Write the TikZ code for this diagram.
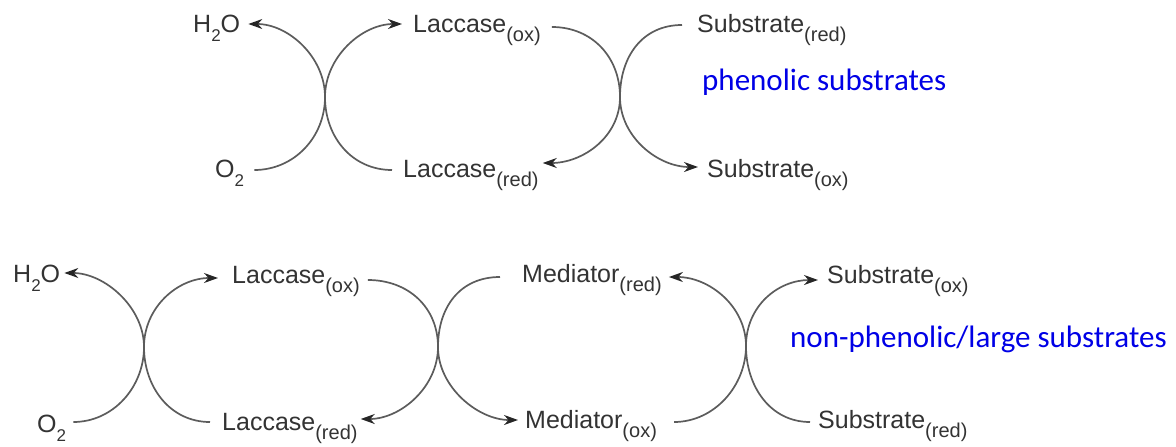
\documentclass[tikz,border=0pt]{standalone}
\usepackage{fontspec}
\setmainfont{Liberation Sans}
\newfontfamily\blufont{Carlito}
\usetikzlibrary{arrows.meta}
\definecolor{txt}{HTML}{333333}
\definecolor{arc}{HTML}{5C5C5C}
\definecolor{blu}{HTML}{0000E6}
\newcommand{\mysub}[1]{\raisebox{-9pt}{\fontsize{20}{20}\selectfont #1}}
\newcommand{\twosub}{\raisebox{-9pt}{\fontsize{17}{17}\selectfont 2}}
\begin{document}
\begin{tikzpicture}[x=1pt,y=-1pt,
  lbl/.style={anchor=base west, inner sep=0pt, text=txt, font=\fontsize{25}{30}\selectfont},
  note/.style={anchor=base west, inner sep=0pt, text=blu, font=\blufont\fontsize{31}{36}\selectfont},
  cyc/.style={draw=arc, line width=1.7pt},
  tip/.style={-{Stealth[length=14pt,width=10pt,color=black!85]}}]
\useasboundingbox (0,0) rectangle (1176,447);
% ---------- top diagram ----------
\node[lbl] (h2oA) at (193,32) {H\twosub O};
\node[lbl] (o2A) at (215,177) {O\twosub};
\node[lbl] (loxA) at (413,32) {Laccase\mysub{(ox)}};
\node[lbl] (lredA) at (403,177) {Laccase\mysub{(red)}};
\node[lbl] (sredA) at (697,32) {Substrate\mysub{(red)}};
\node[lbl] (soxA) at (707,177) {Substrate\mysub{(ox)}};
\node[note] (phen) at (702,90) {phenolic substrates};
\coordinate (xA1) at (325,97);
\coordinate (xA2) at (620,97);
\draw[cyc,tip] ([xshift=10pt,yshift=7pt]o2A.base east) .. controls +(40,0) and +(0,40) .. (xA1)
   .. controls +(0,-40) and +(40,0) .. ([xshift=8pt,yshift=8pt]h2oA.base east);
\draw[cyc,tip] ([xshift=-11pt,yshift=7pt]lredA.base west) .. controls +(-40,0) and +(0,40) .. (xA1)
   .. controls +(0,-40) and +(-40,0) .. ([xshift=-11pt,yshift=8pt]loxA.base west);
\draw[cyc,tip] ([xshift=11pt,yshift=5pt]loxA.base east) .. controls +(40,0) and +(0,-40) .. (xA2)
   .. controls +(0,40) and +(40,0) .. ([xshift=4pt,yshift=14pt]lredA.base east);
\draw[cyc,tip] ([xshift=-15pt,yshift=7pt]sredA.base west) .. controls +(-40,0) and +(0,-40) .. (xA2)
   .. controls +(0,40) and +(-40,0) .. ([xshift=-9pt,yshift=10pt]soxA.base west);
% ---------- bottom diagram ----------
\node[lbl] (h2oB) at (13,282) {H\twosub O};
\node[lbl] (o2B) at (37,432) {O\twosub};
\node[lbl] (loxB) at (232,283) {Laccase\mysub{(ox)}};
\node[lbl] (lredB) at (222,430) {Laccase\mysub{(red)}};
\node[lbl] (medred) at (522,282) {Mediator\mysub{(red)}};
\node[lbl] (medox) at (525,428) {Mediator\mysub{(ox)}};
\node[lbl] (soxB) at (827,283) {Substrate\mysub{(ox)}};
\node[lbl] (sredB) at (818,428) {Substrate\mysub{(red)}};
\node[note] (nonphen) at (790,347) {non-phenolic/large substrates};
\coordinate (xB1) at (144,347);
\coordinate (xB2) at (438,347);
\coordinate (xB3) at (746,346);
\draw[cyc,tip] ([xshift=7pt,yshift=10pt]o2B.base east) .. controls +(40,0) and +(0,40) .. (xB1)
   .. controls +(0,-40) and +(40,0) .. ([xshift=4pt,yshift=9pt]h2oB.base east);
\draw[cyc,tip] ([xshift=-12pt,yshift=8pt]lredB.base west) .. controls +(-40,0) and +(0,40) .. (xB1)
   .. controls +(0,-40) and +(-40,0) .. ([xshift=-14pt,yshift=5pt]loxB.base west);
\draw[cyc,tip] ([xshift=8pt,yshift=3pt]loxB.base east) .. controls +(40,0) and +(0,-40) .. (xB2)
   .. controls +(0,40) and +(40,0) .. ([xshift=3pt,yshift=11pt]lredB.base east);
\draw[cyc,tip] ([xshift=-22pt,yshift=5pt]medred.base west) .. controls +(-40,0) and +(0,-40) .. (xB2)
   .. controls +(0,40) and +(-40,0) .. ([xshift=-7pt,yshift=8pt]medox.base west);
\draw[cyc,tip] ([xshift=17pt,yshift=6pt]medox.base east) .. controls +(40,0) and +(0,40) .. (xB3)
   .. controls +(0,-40) and +(40,0) .. ([xshift=7pt,yshift=5pt]medred.base east);
\draw[cyc,tip] ([xshift=-8pt,yshift=6pt]sredB.base west) .. controls +(-40,0) and +(0,40) .. (xB3)
   .. controls +(0,-40) and +(-40,0) .. ([xshift=-9pt,yshift=3pt]soxB.base west);
\end{tikzpicture}
\end{document}
